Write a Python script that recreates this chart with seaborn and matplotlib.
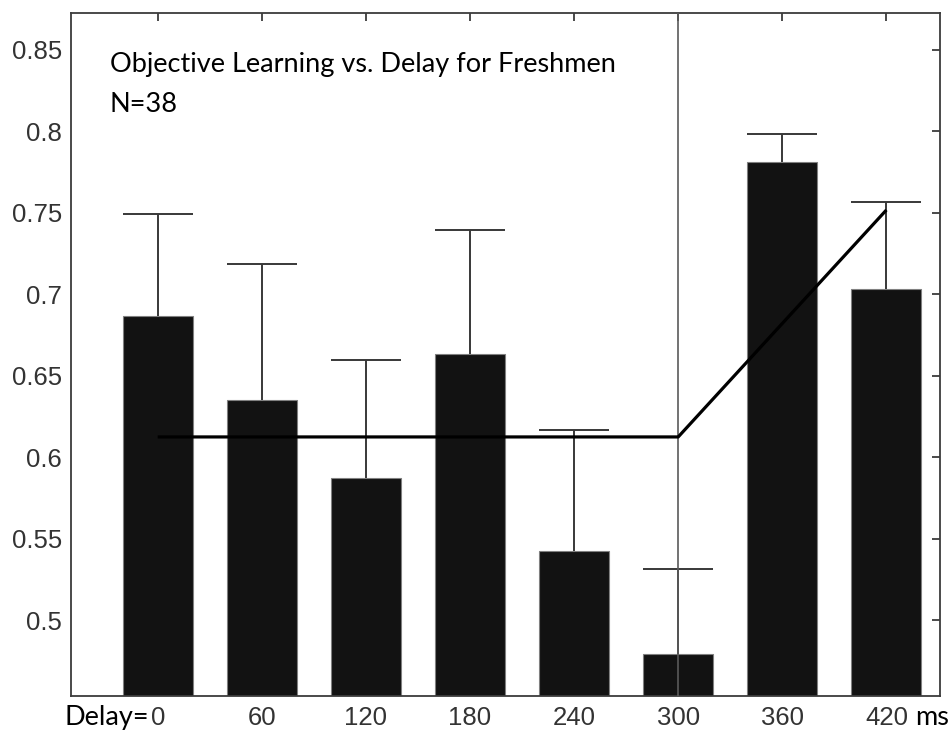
import matplotlib
matplotlib.use("Agg")
import matplotlib.pyplot as plt
import seaborn as sns
import pandas as pd
import numpy as np

# ---- data ----
delays = [0, 60, 120, 180, 240, 300, 360, 420]
means = [0.687, 0.635, 0.5875, 0.6635, 0.5425, 0.4795, 0.7813, 0.7033]
upper = [0.7494, 0.7187, 0.6596, 0.7395, 0.6168, 0.5315, 0.7986, 0.7567]
fit_delays = [0, 300, 420]
fit_values = [0.6125, 0.6125, 0.7518]
breakpoint_delay = 300
yticks = [0.5, 0.55, 0.6, 0.65, 0.7, 0.75, 0.8, 0.85]
ytick_labels = ["0.5", "0.55", "0.6", "0.65", "0.7", "0.75", "0.8", "0.85"]
xtick_labels = [str(d) for d in delays]
title_lines = ["Objective Learning vs. Delay for Freshmen", "N=38"]
x_prefix = "Delay="
x_suffix = "ms"

sns.set_style("white")
plt.rcParams['font.family'] = ['Liberation Sans', 'DejaVu Sans']

W, H = 951, 732
fig = plt.figure(figsize=(W / 100, H / 100), dpi=100)
ax = fig.add_axes([71 / W, 1 - 696 / H, (940 - 71) / W, (696 - 12.5) / H])

df = pd.DataFrame({"delay": xtick_labels, "score": means})
bw = 0.672
sns.barplot(data=df, x="delay", y="score", order=xtick_labels, color="#121212",
            saturation=1, width=bw, edgecolor="#808080", linewidth=0.8,
            errorbar=None, ax=ax, zorder=2)

xs = np.arange(len(delays))
pos = {d: i for i, d in enumerate(delays)}
ecol = "#383838"
ax.vlines(xs, means, upper, color=ecol, lw=1.4, zorder=3)
ax.hlines(upper, xs - bw / 2, xs + bw / 2, color=ecol, lw=1.4, zorder=3)

ax.axvline(pos[breakpoint_delay], color="#5a5a5a", lw=1.2, zorder=3)

ax.plot([pos[d] for d in fit_delays], fit_values, color="black", lw=2.3,
        zorder=4, solid_capstyle="butt")

ax.set_xlim(-0.833, 7.515)
ax.set_ylim(0.4535, 0.873)
ax.set_yticks(yticks)
ax.set_yticklabels(ytick_labels)
ax.set_xticks(xs)
ax.set_xticklabels(xtick_labels)
ax.set_xlabel("")
ax.set_ylabel("")

for s in ax.spines.values():
    s.set_visible(True)
    s.set_color("#3c3c3c")
    s.set_linewidth(1.3)

ax.tick_params(axis="both", which="both", direction="in", length=6, width=1.3,
               color="#3c3c3c", top=True, right=True, labelsize=18.5,
               labelcolor="#333333")
ax.tick_params(axis="x", pad=7.5)
ax.tick_params(axis="y", pad=6.5)

tfont = dict(family=["Lato", "DejaVu Sans"], size=19.5, color="black")
fig.text(110 / W, 1 - 72 / H, title_lines[0], va="baseline", ha="left", **tfont)
fig.text(110 / W, 1 - 112 / H, title_lines[1], va="baseline", ha="left", **tfont)

labels = ax.get_xticklabels()
ax.annotate(x_prefix, xy=(0, 0), xycoords=labels[0], xytext=(-1, 0),
            textcoords="offset points", ha="right", va="bottom", **tfont)
ax.annotate(x_suffix, xy=(1, 0), xycoords=labels[-1], xytext=(5, 0),
            textcoords="offset points", ha="left", va="bottom", **tfont)

fig.savefig("out.png", dpi=100)
